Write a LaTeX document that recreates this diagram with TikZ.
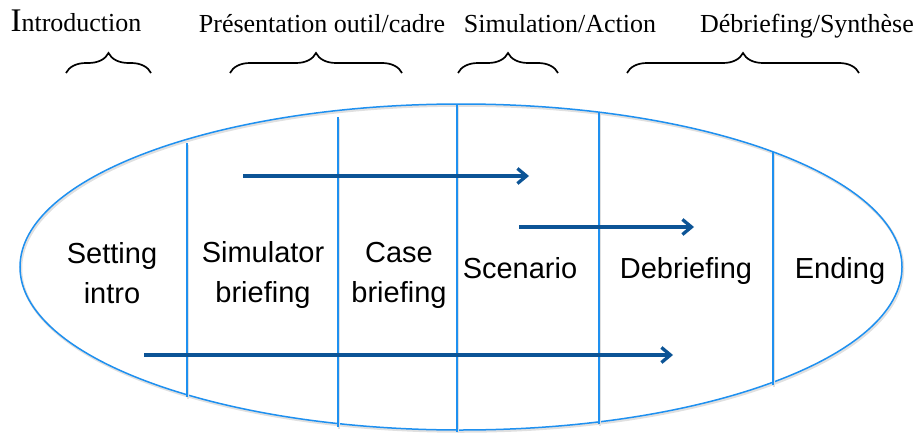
\documentclass[tikz,border=0pt]{standalone}
\usepackage{fontspec}
\setmainfont{Liberation Serif}
\newfontfamily\phasefont{Liberation Sans}
\usetikzlibrary{arrows.meta,decorations.pathreplacing}
\definecolor{rimblue}{RGB}{30,144,240}
\definecolor{flowblue}{RGB}{12,84,150}

\begin{document}
\begin{tikzpicture}[x=1pt, y=1pt,
    shadowed/.style={preaction={draw=black!12, line width=2.5pt, transform canvas={xshift=1pt, yshift=-1.5pt}}},
    rim/.style={shadowed, draw=rimblue, line width=1.5pt},
    divider/.style={shadowed, draw=rimblue, line width=2pt},
    flow/.style={draw=flowblue, line width=3.3pt, -{Straight Barb[length=9pt,width=15pt]}},
    phase/.style={font=\phasefont\fontsize{29}{40}\selectfont, align=center, anchor=base, inner sep=0pt},
    stage/.style={font=\fontsize{26}{30}\selectfont, anchor=base, inner sep=0pt},
    grouping/.style={draw, line width=1.7pt, decorate, decoration={brace, amplitude=20pt}}]
  \useasboundingbox (0,0) rectangle (920,432);
  \draw[rim] (461,165) ellipse [x radius=441, y radius=163];
  \foreach \x/\lo/\hi in {187/35/289, 338/5/315, 457/0/328, 599/8/319, 773/47/280}
    \draw[divider] (\x,\lo) -- (\x,\hi);
  \node[stage] (intro) at (76,400) {{\fontsize{33}{33}\selectfont I}ntroduction};
  \node[stage] (presentation) at (322,399) {Présentation outil/cadre};
  \node[stage] (simulation) at (560,399) {Simulation/Action};
  \node[stage] (synthese) at (807,399) {Débriefing/Synthèse};
  \draw[grouping] (66,359) -- (151,359);
  \draw[grouping] (230,359) -- (402,359);
  \draw[grouping] (458,359) -- (558,359);
  \draw[grouping] (627,359) -- (859,359);
  \node[phase] (setting) at (112,129) {Setting\\intro};
  \node[phase] (simbrief) at (263,130) {Simulator\\briefing};
  \node[phase] (casebrief) at (399,130) {Case\\briefing};
  \node[phase] (scenario) at (520,154) {Scenario};
  \node[phase] (debrief) at (686,154) {Debriefing};
  \node[phase] (ending) at (840,154) {Ending};
  \coordinate (top start) at (243,256);
  \coordinate (top end) at (529,256);
  \coordinate (mid start) at (519,205);
  \coordinate (mid end) at (694,205);
  \coordinate (low start) at (144,77);
  \coordinate (low end) at (673,77);
  \draw[flow] (top start) -- (top end);
  \draw[flow] (mid start) -- (mid end);
  \draw[flow] (low start) -- (low end);
\end{tikzpicture}
\end{document}
